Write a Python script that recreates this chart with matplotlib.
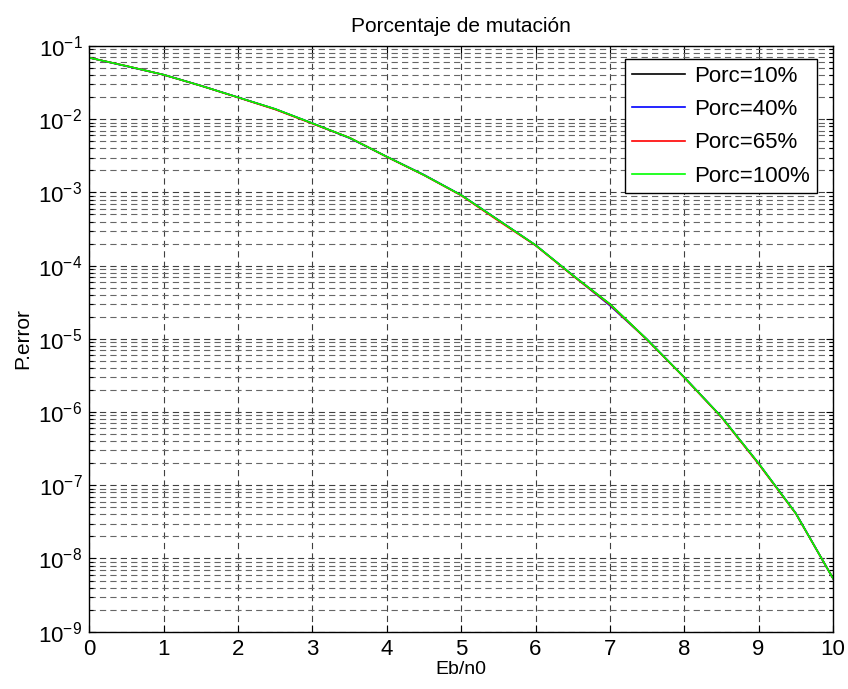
import numpy as np
import matplotlib.pyplot as plt
from matplotlib.ticker import NullFormatter

plt.rcParams['font.family'] = ['Liberation Sans', 'DejaVu Sans']
plt.rcParams['mathtext.fontset'] = 'custom'
plt.rcParams['mathtext.rm'] = 'Liberation Sans'
plt.rcParams['mathtext.it'] = 'Liberation Sans'
plt.rcParams['mathtext.default'] = 'regular'
plt.rcParams['lines.scale_dashes'] = False

# Eb/n0 axis and simulated error probability per mutation percentage
ebn0 = [0, 0.5, 1, 1.5, 2, 2.5, 3, 3.5, 4, 4.5, 5,
        5.5, 6, 6.5, 7, 7.5, 8, 8.5, 9, 9.5, 10]

perr_10 = [0.0692, 0.0533, 0.0405, 0.0287, 0.0199, 0.0138, 0.0088, 0.00558,
           0.00308, 0.00173, 9.2e-4, 4.2e-4, 1.91e-4, 7.4e-5, 2.99e-5,
           9.8e-6, 2.98e-6, 8.6e-7, 1.99e-7, 4.13e-8, 5.35e-9]
perr_40 = [0.0692, 0.0530, 0.0405, 0.0288, 0.0199, 0.0137, 0.0088, 0.00552,
           0.00308, 0.00174, 9.2e-4, 4.2e-4, 1.90e-4, 7.4e-5, 2.85e-5,
           9.8e-6, 2.98e-6, 8.6e-7, 1.97e-7, 4.15e-8, 5.35e-9]
perr_65 = [0.0692, 0.0533, 0.0404, 0.0287, 0.0198, 0.0136, 0.0087, 0.00558,
           0.00306, 0.00172, 9.1e-4, 4.1e-4, 1.89e-4, 7.3e-5, 2.92e-5,
           9.7e-6, 2.96e-6, 8.5e-7, 1.95e-7, 4.10e-8, 5.35e-9]
perr_100 = [0.0692, 0.0533, 0.0405, 0.0287, 0.0199, 0.0138, 0.0088, 0.00558,
            0.00308, 0.00173, 9.2e-4, 4.2e-4, 1.91e-4, 7.4e-5, 2.99e-5,
            9.8e-6, 2.98e-6, 8.6e-7, 1.99e-7, 4.13e-8, 5.35e-9]

labels = ['Porc=10%', 'Porc=40%', 'Porc=65%', 'Porc=100%']
colors = ['#000000', '#0000ff', '#ff0000', '#00ff00']

fig = plt.figure(figsize=(8.48, 6.89), dpi=100)
ax = fig.add_axes([0.1053, 0.0832, 0.8770, 0.8500])

for y, lab, c in zip([perr_10, perr_40, perr_65, perr_100], labels, colors):
    ax.semilogy(ebn0, y, color=c, lw=1.2, label=lab)

ax.set_xlim(0, 10)
ax.set_ylim(1e-9, 1e-1)
ax.set_xticks(range(11))
ax.yaxis.set_minor_formatter(NullFormatter())

dash = (0, (4.5, 3.0))
ax.grid(True, which='major', axis='both', color='0.25', lw=0.8, linestyle=dash)
ax.grid(True, which='minor', axis='y', color='0.4', lw=0.8, linestyle=dash)

ax.tick_params(which='both', direction='in', top=True, right=True,
               labelsize=16, width=0.8)
ax.tick_params(which='major', length=5, pad=5)
ax.tick_params(which='minor', length=3)
for s in ax.spines.values():
    s.set_linewidth(1.0)

ax.set_title('Porcentaje de mutación', fontsize=15, pad=10)
ax.set_xlabel('Eb/n0', fontsize=14, labelpad=1)
ax.set_ylabel('P.error', fontsize=15, labelpad=4)

leg = ax.legend(loc='upper right', bbox_to_anchor=(0.963, 0.914),
                bbox_transform=fig.transFigure, fontsize=16, fancybox=False,
                framealpha=1, edgecolor='black', handlelength=2.4,
                handletextpad=0.4, labelspacing=0.55, borderpad=0.3,
                borderaxespad=0)
leg.get_frame().set_linewidth(1.0)

fig.savefig('out.png', dpi=100)
